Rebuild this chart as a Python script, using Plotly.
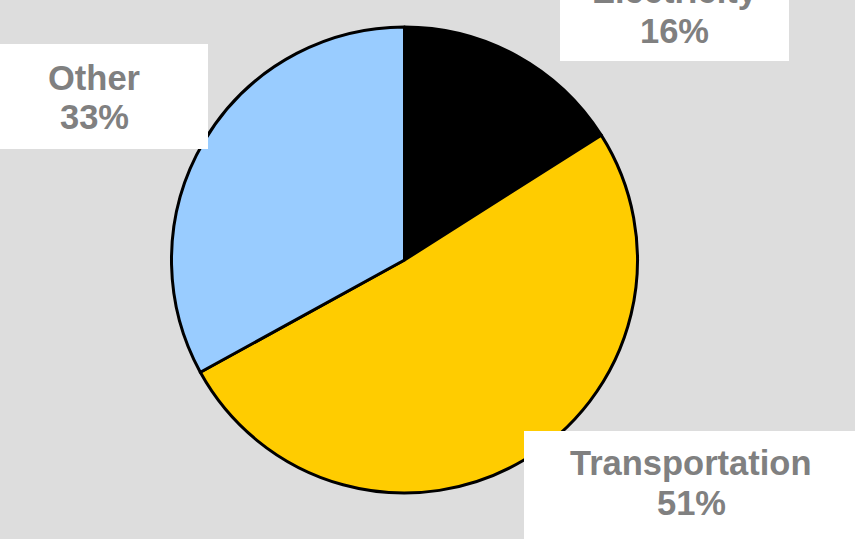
import plotly.graph_objects as go

# Data
labels = ["Electricity", "Transportation", "Other"]
values = [16, 51, 33]
colors = ["#000000", "#FFCC00", "#99CCFF"]

W, H = 855, 539

fig = go.Figure()

fig.add_trace(go.Pie(
    labels=labels,
    values=values,
    sort=False,
    direction="clockwise",
    rotation=0,
    textinfo="none",
    hoverinfo="label+percent",
    marker=dict(colors=colors, line=dict(color="black", width=3)),
    domain=dict(x=[(404.5 - 233) / W, (404.5 + 233) / W],
                y=[46 / H, 512 / H]),
    showlegend=False,
))

# Label boxes in pixels: (x0, y0, x1, y1) of the white box, text center x,
# and the vertical centers of the two text lines
box_pos = {
    "Electricity": ((560, -60, 789, 61), 674.5, (-8.5, 30.5)),
    "Transportation": ((524, 431, 870, 560), 691, (463, 503)),
    "Other": ((-20, 44, 208, 149), 94, (78, 117)),
}

font = dict(family="Liberation Sans, Arial, sans-serif", size=34.5,
            color="#808080", weight="bold")

total = sum(values)
for lab, val in zip(labels, values):
    (x0, y0, x1, y1), cx, (ly1, ly2) = box_pos[lab]
    fig.add_shape(
        type="rect", xref="paper", yref="paper", layer="above",
        x0=x0 / W, x1=x1 / W, y0=1 - y1 / H, y1=1 - y0 / H,
        fillcolor="white", line=dict(width=0),
    )
    for txt, ly in [(lab, ly1), (f"{round(val / total * 100)}%", ly2)]:
        fig.add_annotation(
            text=txt,
            xref="paper", yref="paper",
            x=cx / W, y=1 - ly / H,
            xanchor="center", yanchor="middle",
            showarrow=False,
            font=font,
        )

fig.update_layout(
    width=W, height=H,
    margin=dict(l=0, r=0, t=0, b=0),
    paper_bgcolor="#DDDDDD",
    plot_bgcolor="#DDDDDD",
)

# remove the page's default body margin so the chart fills the window
fig.write_html("out.html", config={"displayModeBar": False},
               post_script="document.body.style.margin='0px';")
